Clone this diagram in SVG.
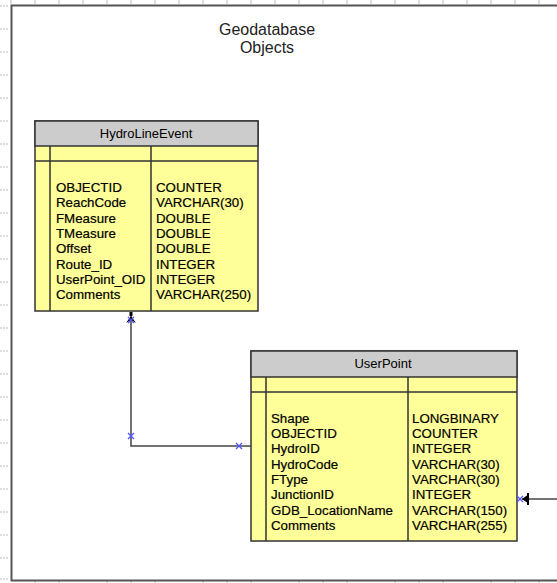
<svg xmlns="http://www.w3.org/2000/svg" width="557" height="583" viewBox="0 0 557 583">
<defs>
<style>
.frame{fill:none;stroke:#555;stroke-width:2}
.tick{stroke:#bbb;stroke-width:1}
.tbl{fill:#ffff99;stroke:#333;stroke-width:1.5}
.hdr{fill:#cccccc;stroke:#333;stroke-width:1.5}
.ln{stroke:#333;stroke-width:1.5;fill:none}
.t{font-family:"Liberation Sans",Arial,sans-serif;font-size:13.3px;fill:#000;stroke:#000;stroke-width:0.2}
.h{font-family:"Liberation Sans",Arial,sans-serif;font-size:13px;fill:#000;text-anchor:middle}
.title{font-family:"Liberation Sans",Arial,sans-serif;font-size:16px;fill:#222;text-anchor:middle}
.conn{stroke:#444;stroke-width:1.5;fill:none}
.x{stroke:#5555ff;stroke-width:1.3;fill:none}
</style>
<g id="xm"><path class="x" d="M-3,-3 L3,3 M-3,3 L3,-3"/></g>
</defs>
<rect width="557" height="583" fill="#fff"/>
<g id="rulers">
<path class="tick" d="M11,0V4 M35,0V4 M59,0V4 M83,0V4 M107,0V4 M131,0V4 M155,0V4 M179,0V4 M203,0V4 M227,0V4 M251,0V4 M275,0V4 M299,0V4 M323,0V4 M347,0V4 M371,0V4 M395,0V4 M419,0V4 M443,0V4 M467,0V4 M491,0V4 M515,0V4 M539,0V4"/>
<path class="tick" stroke-dasharray="2,1" d="M0,6H9 M0,29H9 M0,52H9 M0,75H9 M0,98H9 M0,121H9 M0,144H9 M0,167H9 M0,190H9 M0,213H9 M0,236H9 M0,259H9 M0,282H9 M0,305H9 M0,328H9 M0,351H9 M0,374H9 M0,397H9 M0,420H9 M0,443H9 M0,466H9 M0,489H9 M0,512H9 M0,535H9 M0,558H9 M0,579H9"/>
<path class="tick" d="M35,581V583 M59,581V583 M107,581V583 M131,581V583 M155,581V583 M203,581V583 M227,581V583 M251,581V583 M299,581V583 M323,581V583 M347,581V583 M395,581V583 M419,581V583 M443,581V583 M491,581V583 M515,581V583 M539,581V583"/>
</g>
<path class="frame" d="M557,5.5H11.5V580.5H557"/>
<g id="title">
<text class="title" x="267" y="35">Geodatabase</text>
<text class="title" x="267" y="53">Objects</text>
</g>
<g id="HydroLineEvent">
<rect class="tbl" x="35" y="121" width="223" height="190"/>
<rect class="hdr" x="35" y="121" width="223" height="25"/>
<path class="ln" d="M35,161H258 M50,146V311 M151,146V311"/>
<text class="h" x="146" y="138">HydroLineEvent</text>
<text class="t" x="56" y="192">OBJECTID</text>
<text class="t" x="56" y="207">ReachCode</text>
<text class="t" x="56" y="223">FMeasure</text>
<text class="t" x="56" y="238">TMeasure</text>
<text class="t" x="56" y="253">Offset</text>
<text class="t" x="56" y="269">Route_ID</text>
<text class="t" x="56" y="284">UserPoint_OID</text>
<text class="t" x="56" y="299">Comments</text>
<text class="t" x="156" y="192">COUNTER</text>
<text class="t" x="156" y="207">VARCHAR(30)</text>
<text class="t" x="156" y="223">DOUBLE</text>
<text class="t" x="156" y="238">DOUBLE</text>
<text class="t" x="156" y="253">DOUBLE</text>
<text class="t" x="156" y="269">INTEGER</text>
<text class="t" x="156" y="284">INTEGER</text>
<text class="t" x="156" y="299">VARCHAR(250)</text>
</g>
<g id="UserPoint">
<rect class="tbl" x="251" y="351" width="266" height="190"/>
<rect class="hdr" x="251" y="351" width="266" height="26"/>
<path class="ln" d="M251,392H517 M266,377V541 M408,377V541"/>
<text class="h" x="383" y="368">UserPoint</text>
<text class="t" x="271" y="423">Shape</text>
<text class="t" x="271" y="438">OBJECTID</text>
<text class="t" x="271" y="453">HydroID</text>
<text class="t" x="271" y="469">HydroCode</text>
<text class="t" x="271" y="484">FType</text>
<text class="t" x="271" y="499">JunctionID</text>
<text class="t" x="271" y="515">GDB_LocationName</text>
<text class="t" x="271" y="530">Comments</text>
<text class="t" x="412" y="423">LONGBINARY</text>
<text class="t" x="412" y="438">COUNTER</text>
<text class="t" x="412" y="453">INTEGER</text>
<text class="t" x="412" y="469">VARCHAR(30)</text>
<text class="t" x="412" y="484">VARCHAR(30)</text>
<text class="t" x="412" y="499">INTEGER</text>
<text class="t" x="412" y="515">VARCHAR(150)</text>
<text class="t" x="412" y="530">VARCHAR(255)</text>
</g>
<g id="connectors">
<path class="conn" d="M131,314V446H251"/>
<rect x="129.5" y="312" width="3" height="4" fill="#000"/>
<path d="M131,316 L126,323 L131,320 L136,323 Z" fill="#000"/>
<use href="#xm" x="131" y="320"/>
<use href="#xm" x="131" y="436"/>
<use href="#xm" x="239" y="446"/>
<path class="conn" d="M557,499H522"/>
<path d="M522,499 L529,494 L529,504 Z" fill="#000"/>
<path d="M528,493V505" stroke="#000" stroke-width="2"/>
<use href="#xm" x="520" y="499"/>
</g>
</svg>
